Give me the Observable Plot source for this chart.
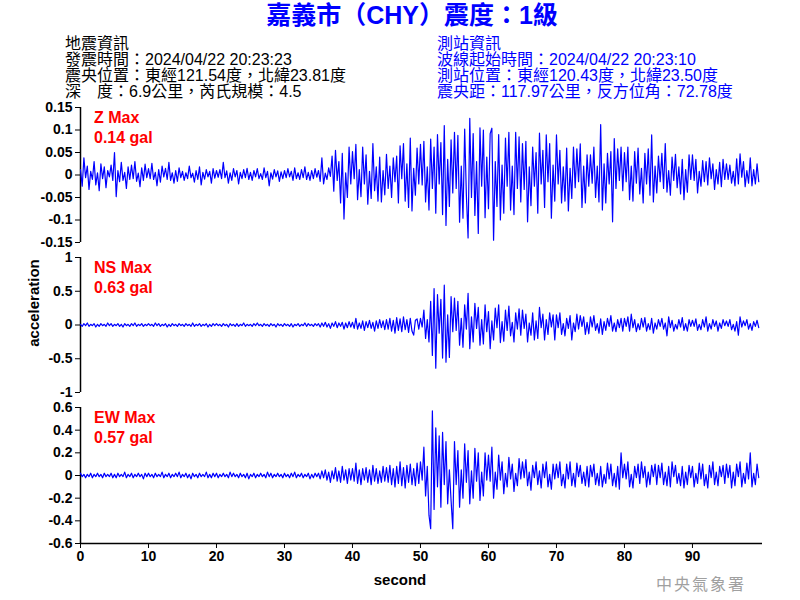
<!DOCTYPE html>
<html>
<head>
<meta charset="utf-8">
<script src="https://cdn.jsdelivr.net/npm/d3@7"></script>
<script src="https://cdn.jsdelivr.net/npm/@observablehq/plot@0.6"></script>
<style>
  html, body { margin: 0; padding: 0; background: #fff; overflow: hidden; }
  #wrap { position: relative; width: 800px; height: 600px; font-family: "Liberation Sans", Arial, "Noto Sans CJK TC", sans-serif; }
  .abs { position: absolute; white-space: nowrap; }
  .title { left: 12px; width: 800px; top: -1px; text-align: center; font-size: 25px; line-height: 32px; font-weight: bold; color: #0000ff; font-family: "Liberation Sans", "Noto Sans CJK TC", sans-serif; }
  .info { font-size: 16px; line-height: 16px; font-family: "Liberation Sans", "Noto Sans CJK TC", sans-serif; }
  .red { color: #ff0000; font-size: 16px; font-weight: bold; line-height: 20px; left: 94px; }
  .panel { position: absolute; left: 0; }
</style>
</head>
<body>
<div id="wrap">
  <div class="abs title">嘉義市（CHY）震度：1級</div>
  <div class="abs info" style="left:65px; top:36px; color:#000;">地震資訊<br>發震時間：2024/04/22 20:23:23<br>震央位置：東經121.54度，北緯23.81度<br>深　度：6.9公里，芮氏規模：4.5</div>
  <div class="abs info" style="left:437px; top:36px; color:#0000ff;">測站資訊<br>波線起始時間：2024/04/22 20:23:10<br>測站位置：東經120.43度，北緯23.50度<br>震央距：117.97公里，反方位角：72.78度</div>
  <div id="p1" class="panel" style="top:97px;"></div>
  <div id="p2" class="panel" style="top:247px;"></div>
  <div id="p3" class="panel" style="top:397px;"></div>
  <div class="abs red" style="top:108px;">Z Max<br>0.14 gal</div>
  <div class="abs red" style="top:258px;">NS Max<br>0.63 gal</div>
  <div class="abs red" style="top:408px;">EW Max<br>0.57 gal</div>
  <div class="abs" style="left:33px; top:303px; transform: translate(-50%,-50%) rotate(-90deg); font-size:15px; font-weight:bold;">acceleration</div>
  <div class="abs" style="left:400px; top:571px; transform: translateX(-50%); font-size:15px; font-weight:bold;">second</div>
  <div class="abs" style="left:656px; top:571px; font-size:16px; color:#a0a0a0; font-family:'Noto Sans CJK TC', sans-serif; letter-spacing:2px;">中央氣象署</div>
</div>
<script>
// sample interval (seconds)
const dt = 0.25;
const xTicks = [0, 10, 20, 30, 40, 50, 60, 70, 80, 90];
const zTicks = [-0.15, -0.1, -0.05, 0, 0.05, 0.1, 0.15];
const nsTicks = [-1, -0.5, 0, 0.5, 1];
const ewTicks = [-0.6, -0.4, -0.2, 0, 0.2, 0.4, 0.6];

// Z component, units of 0.001 gal, one value per 0.25 s
const zVals = [
  12,-25,38,-6,20,-32,8,-10,30,-22,5,-35,25,-8,18,-28,10,-4,22,-12,
  50,-48,10,-15,28,-12,6,-30,18,-10,22,-8,30,-14,4,-26,16,-12,24,-6,
  14,-8,26,-10,6,-24,12,-16,20,-4,15,-10,28,-12,5,-18,10,-14,16,-6,
  8,-12,5,-8,20,-6,4,-16,10,-10,18,-22,6,-9,12,-4,8,-18,14,-7,
  10,-5,12,-8,28,-6,9,-18,5,-12,14,-4,10,-20,6,-8,12,-6,15,-10,
  6,-12,10,-4,14,-8,3,-10,16,-6,8,-24,5,-9,12,-4,9,-14,7,-8,
  10,-6,14,-4,8,-12,16,-8,5,-10,12,-6,18,-10,6,-12,10,-8,14,-5,
  10,-14,38,-20,4,-10,16,-3,42,-36,55,-12,30,-62,48,-98,5,-50,62,-20,
  52,-8,68,-55,12,-48,62,-20,45,-65,8,-52,70,-35,18,-58,40,-60,10,-44,
  46,-30,20,-50,38,-15,42,-62,65,-8,70,-58,25,-72,82,-80,15,-45,60,-20,
  68,-22,75,-60,18,-78,80,-30,62,-85,90,-20,72,-88,110,-112,35,-70,78,-40,
  95,-30,88,-105,20,-96,102,-45,-140,126,-50,92,-90,30,-130,105,-25,100,-95,40,
  -75,92,104,-145,30,-70,90,-100,22,-85,82,-25,95,-78,20,-88,95,-30,85,-60,
  70,-32,75,-104,18,-68,62,-25,50,-85,93,-20,55,-72,89,-15,70,-96,22,-58,
  89,-20,55,-62,18,-58,60,-80,15,-52,62,-28,58,-15,69,-72,20,-62,45,-25,
  45,-18,62,-50,20,-60,112,-78,25,-62,48,-20,52,-104,81,-30,58,-12,62,-35,
  50,-15,62,-55,20,-58,52,-18,60,-42,15,-62,48,-20,58,-45,89,-60,20,-40,
  42,-15,48,-30,70,-38,10,-45,40,-12,46,-28,18,-42,35,-55,12,-38,45,-10,
  45,-12,35,-40,8,-25,32,-15,30,-22,38,-8,25,-32,12,-20,28,-26,35,-10,
  25,-10,22,-18,8,-24,36,-20,47,-5,30,-26,10,-18,38,-24,12,-20,25,-15
];

// NS component, units of 0.01 gal
const nsVals = [
  1,-2,2,-1,3,-2,1,-1,2,-3,1,-2,2,-1,1,-2,3,-1,2,-2,
  1,-1,2,-2,1,-3,2,-1,1,-2,2,-1,3,-2,1,-1,2,-2,1,-1,
  2,-1,1,-2,3,-1,2,-2,1,-1,2,-3,1,-2,2,-1,1,-2,2,-1,
  1,-2,2,-1,1,-2,3,-2,1,-1,2,-2,1,-1,2,-3,1,-2,2,-1,
  2,-1,1,-2,2,-1,1,-3,2,-1,1,-2,2,-2,1,-1,3,-2,1,-1,
  1,-2,2,-1,3,-1,1,-2,2,-1,1,-2,2,-1,1,-3,2,-1,1,-2,
  2,-1,1,-2,2,-3,1,-1,2,-2,1,-1,3,-2,2,-1,1,-2,2,-1,
  2,-3,3,-2,4,-3,2,-5,3,-2,5,-4,3,-2,4,-6,3,-4,5,-3,
  4,-5,10,-6,3,-5,6,-8,5,-4,7,-5,4,-9,6,-5,8,-4,6,-7,
  8,-6,10,-9,7,-12,11,-8,9,-10,12,-7,8,-11,10,-9,-15,7,9,-6,
  10,-3,22,-20,8,-25,35,-45,54,-64,45,-12,38,-49,59,-55,15,-48,42,-10,
  40,-8,35,-30,10,-33,30,-6,47,-35,12,-25,32,-5,26,-30,8,-28,30,-10,
  20,-35,6,-22,25,-4,30,-26,5,-24,22,-8,28,-16,4,-25,18,-6,24,-15,
  22,-5,16,-25,3,-15,18,-22,6,-20,26,-4,16,-22,8,-14,18,-3,15,-22,
  15,-4,18,-14,2,-16,10,-5,14,-22,3,-10,16,-6,14,-2,12,-14,4,-13,
  12,-3,14,-8,2,-12,9,-14,5,-8,10,-2,14,-9,3,-10,8,-4,10,-9,
  10,-2,12,-9,16,-4,8,-10,2,-7,10,-3,11,-9,2,-7,10,-12,3,-6,
  8,-2,10,-6,3,-16,12,-4,7,-9,1,-6,8,-3,11,-8,2,-9,8,-2,
  7,-2,9,-8,1,-7,8,-3,12,-9,2,-6,8,-2,6,-9,3,-5,8,-1,
  6,-2,8,-7,1,-9,5,-15,12,-3,6,-1,8,-6,2,-8,5,-2,7,-4
];

// EW component, units of 0.01 gal
const ewVals = [
  2,-1,1,-2,1,-1,2,-2,1,-1,2,-1,1,-2,2,-1,1,-1,2,-2,
  1,-2,2,-1,1,-1,3,-2,1,-1,2,-2,1,-1,2,-1,1,-3,2,-1,
  2,-1,1,-2,2,-1,1,-1,3,-2,1,-1,2,-2,1,-1,2,-1,3,-2,
  1,-1,2,-2,1,-3,2,-1,1,-2,2,-1,1,-1,3,-2,1,-2,2,-1,
  2,-2,1,-1,2,-1,1,-2,3,-1,2,-1,1,-2,2,-1,1,-2,2,-3,
  1,-1,2,-2,1,-1,2,-1,1,-2,3,-1,2,-2,1,-1,2,-1,1,-2,
  2,-1,1,-2,2,-1,3,-2,1,-1,2,-2,1,-1,2,-3,1,-2,2,-1,
  2,-3,4,-2,5,-4,3,-6,4,-3,7,-5,4,-6,8,-4,5,-7,6,-4,
  6,-5,11,-7,5,-8,6,-4,7,-6,5,-8,9,-5,6,-7,4,-6,8,-5,
  7,-6,9,-8,6,-10,8,-7,12,-9,7,-11,9,-6,10,-8,6,-9,11,-7,
  12,-4,25,-18,8,-35,-47,57,-30,42,-10,35,-28,38,-8,30,-25,5,-22,-47,
  30,-8,22,-28,5,-20,28,-6,22,-25,4,-20,24,-5,20,-22,3,-18,20,-4,
  18,-5,25,-20,3,-12,18,-4,12,-16,2,-10,16,-3,10,-14,2,-9,15,-3,
  12,-2,14,-9,3,-13,9,-2,12,-8,4,-11,10,-2,12,-10,1,-12,10,-3,
  10,-2,12,-9,1,-11,10,-3,12,-9,2,-10,11,-1,9,-7,3,-9,8,-10,
  9,-1,10,-8,2,-9,8,-10,1,-7,11,-3,10,-9,2,-10,8,-12,20,-2,
  10,-3,12,-10,1,-11,8,-2,10,-7,12,-2,8,-10,3,-8,9,-1,10,-8,
  9,-2,11,-8,3,-9,8,-10,12,-1,9,-7,2,-9,8,-11,3,-8,9,-2,
  8,-10,2,-7,11,-3,10,-9,1,-11,9,-2,12,-8,3,-9,8,-1,9,-7,
  10,-2,9,-11,3,-9,10,-1,12,-10,2,-7,11,-3,20,-10,2,-8,10,-2
];

function toRows(vals, unit) {
  return vals.map((v, i) => ({t: i * dt, a: v * unit}));
}

function panel(el, vals, unit, domain, ticks, height, marginBottom, showX) {
  const marks = [
    Plot.axisY({ticks, tickFormat: d => String(d), tickSize: 5, tickPadding: 3, label: null}),
    Plot.ruleX([0], {stroke: "#000", strokeWidth: 1.5}),
    Plot.line(toRows(vals, unit), {x: "t", y: "a", curve: "linear", stroke: "#0000ff", strokeWidth: 1.2})
  ];
  if (showX) {
    marks.push(Plot.axisX({ticks: xTicks, tickFormat: d => String(d), tickSize: 5, tickPadding: 3, label: null}));
    marks.push(Plot.ruleY([domain[0]], {stroke: "#000", strokeWidth: 1.5}));
  }
  const chart = Plot.plot({
    width: 800,
    height,
    marginLeft: 80,
    marginRight: 38,
    marginTop: 10,
    marginBottom,
    x: {domain: [0, 100.3], axis: showX ? undefined : null},
    y: {domain},
    style: {fontFamily: "'Liberation Sans', Arial, sans-serif", fontSize: "14px", fontWeight: "bold", color: "#000", background: "transparent", overflow: "visible"},
    marks
  });
  document.getElementById(el).appendChild(chart);
}

panel("p1", zVals, 0.001, [-0.15, 0.15], zTicks, 155, 10, false);
panel("p2", nsVals, 0.01, [-1, 1], nsTicks, 155, 10, false);
panel("p3", ewVals, 0.01, [-0.6, 0.6], ewTicks, 200, 54, true);
</script>
</body>
</html>
